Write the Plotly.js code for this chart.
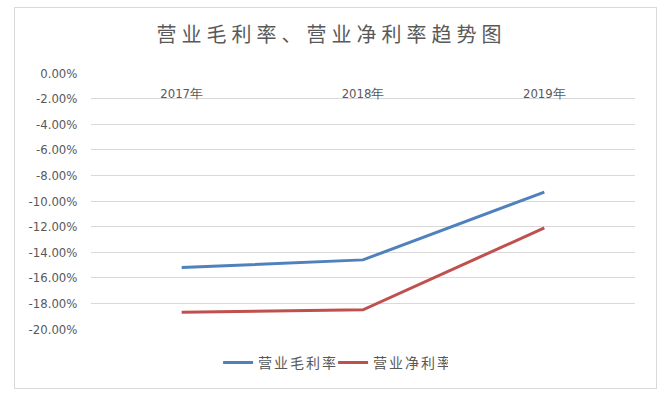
<!DOCTYPE html>
<html><head><meta charset="utf-8">
<script src="https://cdn.plot.ly/plotly-3.0.1.min.js"></script>
<style>
html,body{margin:0;padding:0;background:#fff;}
#wrap{position:relative;width:663px;height:393px;}
#chart{position:absolute;left:0;top:0;width:663px;height:393px;}
#frame{position:absolute;left:14px;top:7px;width:641px;height:380px;border:1px solid #d9d9d9;pointer-events:none;}
#chart .gtitle{letter-spacing:5px;}
#chart .legendtext{letter-spacing:2px;}
</style>
</head><body>
<div id="wrap"><div id="chart"></div><div id="frame"></div></div>
<script>
const years = ['2017年', '2018年', '2019年'];
const grossMargin = [-0.152, -0.146, -0.093];
const netMargin = [-0.187, -0.185, -0.121];
const seriesNames = ['营业毛利率', '营业净利率'];
const titleText = '营业毛利率、营业净利率趋势图';
const yTickVals = [0, -0.02, -0.04, -0.06, -0.08, -0.10, -0.12, -0.14, -0.16, -0.18, -0.20];
const yTickText = ['0.00%', '-2.00%', '-4.00%', '-6.00%', '-8.00%', '-10.00%', '-12.00%',
                   '-14.00%', '-16.00%', '-18.00%', '-20.00%'];

const font = '"Noto Sans CJK SC", "Noto Sans", sans-serif';
const narrow = '"Liberation Sans Narrow", "DejaVu Sans Condensed", sans-serif';
const traces = [
  {x: years, y: grossMargin, name: seriesNames[0], type: 'scatter', mode: 'lines',
   line: {color: '#4f81bd', width: 3}},
  {x: years, y: netMargin, name: seriesNames[1], type: 'scatter', mode: 'lines',
   line: {color: '#c0504d', width: 3}}
];
const layout = {
  width: 663, height: 393,
  margin: {l: 91, r: 28, t: 73, b: 64, pad: 0},
  paper_bgcolor: '#fff', plot_bgcolor: '#fff',
  font: {family: font, color: '#595959', size: 12},
  title: {text: titleText, x: 0.5, xanchor: 'center', y: 0.91, yanchor: 'middle',
          font: {family: font, size: 20, color: '#595959'}},
  xaxis: {type: 'category', range: [-0.5, 2.5], anchor: 'free', position: 1, side: 'bottom',
          ticks: 'outside', ticklen: 8, tickcolor: 'rgba(0,0,0,0)',
          showgrid: false, showline: false, zeroline: false,
          tickfont: {family: narrow, size: 13, color: '#595959'},
          fixedrange: true},
  yaxis: {domain: [0, 1], range: [-0.2, 0], tickmode: 'array', tickvals: yTickVals, ticktext: yTickText,
          showgrid: true, gridcolor: '#d9d9d9', gridwidth: 1, zeroline: false,
          showline: false,
          ticks: 'outside', ticklen: 10, tickcolor: 'rgba(0,0,0,0)',
          tickfont: {family: narrow, size: 13, color: '#595959'},
          fixedrange: true},
  showlegend: true,
  legend: {orientation: 'h', x: 0.445, xanchor: 'center', y: -0.07, yanchor: 'top',
           font: {family: font, size: 14, color: '#595959'}, itemwidth: 30,
           tracegroupgap: 0}
};
Plotly.newPlot('chart', traces, layout, {displayModeBar: false, staticPlot: true});
</script>
</body></html>
